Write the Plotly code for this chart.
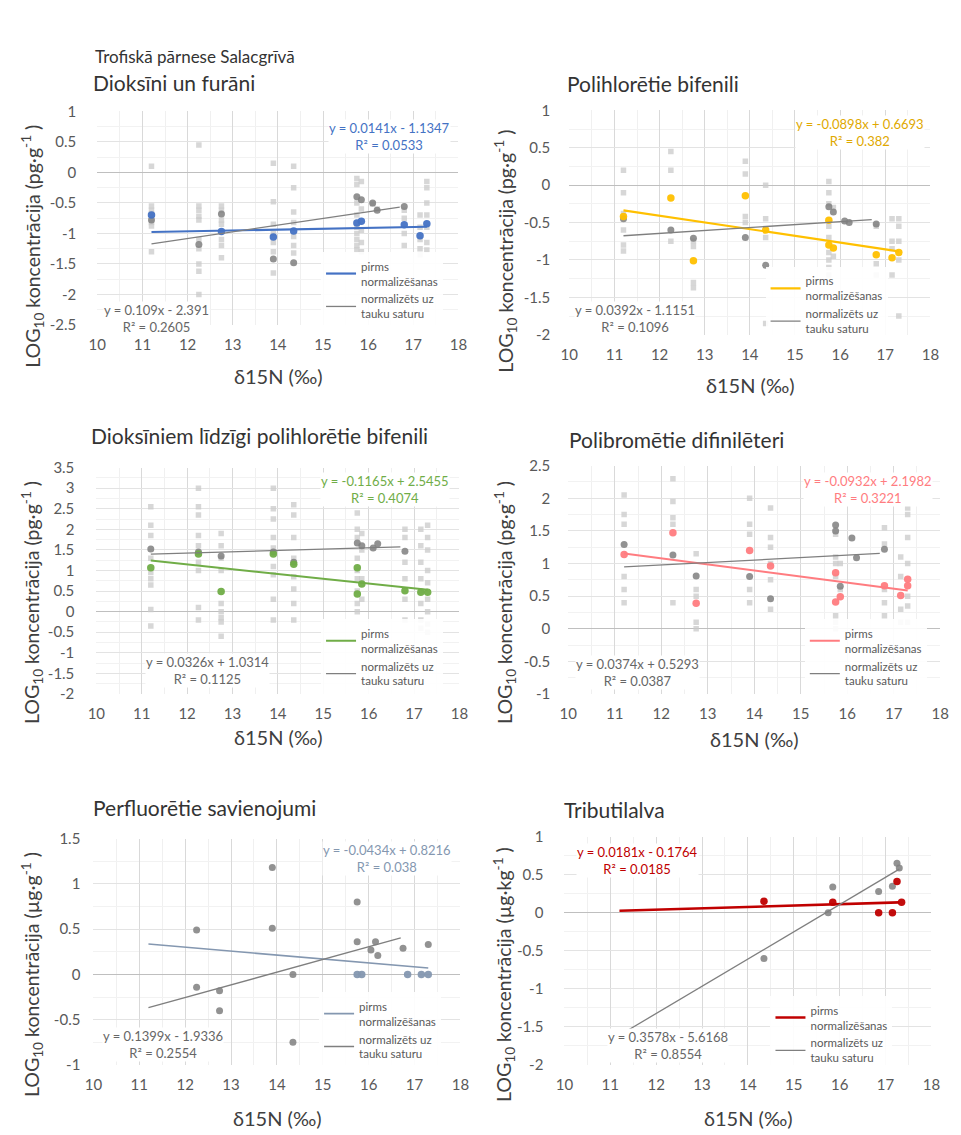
import plotly.graph_objects as go

W, H = 961, 1135
FONT = "Lato"

# ---------------- data ----------------
species_x = [11.2, 12.25, 12.75, 13.9, 14.35, 15.75, 15.85, 16.1, 16.2, 16.8, 17.15, 17.3]

panel_titles = ["Dioksīni un furāni", "Polihlorētie bifenili",
                "Dioksīniem līdzīgi polihlorētie bifenili", "Polibromētie difinilēteri",
                "Perfluorētie savienojumi", "Tributilalva"]
series_names = ["pirms<br>normalizēšanas", "normalizēts uz<br>tauku saturu"]

# Panel 1 - dioxins & furans
p1_col_x = [11.2, 12.75, 13.9, 14.35, 15.75, 15.85, 16.8, 17.15, 17.3]
p1_col_y = [-0.70, -0.97, -1.06, -0.96, -0.83, -0.80, -0.86, -1.04, -0.84]
p1_gray_x = [11.2, 12.25, 12.75, 13.9, 14.35, 15.75, 15.85, 16.1, 16.2, 16.8]
p1_gray_y = [-0.78, -1.18, -0.68, -1.42, -1.48, -0.40, -0.45, -0.50, -0.62, -0.56]
p1_light = [[0.1, -0.55, -0.62, -0.68, -0.82, -0.88, -1.3],
            [0.45, -0.55, -0.62, -0.72, -0.78, -1.1, -1.25, -1.5, -1.62, -2.0],
            [-0.55, -0.62, -0.78, -0.85, -1.1, -1.2, -1.4],
            [0.15, -0.48, -0.85, -1.0, -1.15, -1.3, -1.65],
            [0.1, -0.25, -0.65, -0.82, -1.05, -1.2, -1.32],
            [-0.1, -0.2, -0.5, -0.7, -0.9, -1.0, -1.1, -1.2, -1.27],
            [-0.15, -0.6, -0.95, -1.15, -1.3],
            [-0.52], [-0.6],
            [-0.62, -0.75, -1.0, -1.2],
            [-0.7, -0.9, -1.1, -1.25, -1.35],
            [-0.15, -0.25, -0.5, -0.7, -0.9, -1.15, -1.27]]

# Panel 2 - PCB
p2_col_x = [11.2, 12.25, 12.75, 13.9, 14.35, 15.75, 15.75, 15.85, 16.8, 17.15, 17.3]
p2_col_y = [-0.42, -0.17, -1.01, -0.14, -0.60, -0.47, -0.80, -0.84, -0.93, -0.97, -0.90]
p2_gray_x = [11.2, 12.25, 12.75, 13.9, 14.35, 15.75, 15.85, 16.1, 16.2, 16.8]
p2_gray_y = [-0.45, -0.60, -0.71, -0.70, -1.07, -0.29, -0.36, -0.48, -0.50, -0.52]
p2_light = [[0.2, -0.1, -0.38, -0.6, -0.8, -0.88],
            [0.45, 0.2, -0.75],
            [-0.75, -0.82, -1.3, -1.37],
            [0.32, 0.15, -0.42, -0.5],
            [0.0, -0.45, -0.7, -1.85],
            [0.05, -0.1, -0.25, -0.55, -0.7, -0.9, -1.0, -1.1, -1.2],
            [-0.3, -0.95],
            [], [],
            [-0.55, -1.05, -1.2],
            [-0.45, -0.75, -0.85, -1.2],
            [-0.45, -0.55, -0.75, -1.0, -1.75]]

# Panel 3 - dioxin-like PCB
p3_col_x = [11.2, 12.25, 12.75, 13.9, 14.35, 15.75, 15.75, 15.85, 16.8, 17.15, 17.3]
p3_col_y = [1.07, 1.40, 0.49, 1.40, 1.15, 1.07, 0.43, 0.67, 0.51, 0.47, 0.47]
p3_gray_x = [11.2, 12.25, 12.75, 13.9, 14.35, 15.75, 15.85, 16.1, 16.2, 16.8]
p3_gray_y = [1.52, 1.45, 1.35, 1.45, 1.20, 1.67, 1.60, 1.55, 1.65, 1.47]
p3_light = [[2.55, 2.1, 1.85, 1.3, 0.95, 0.8, 0.65, 0.05, -0.35],
            [3.0, 2.55, 2.35, 1.85, 1.6, 1.2, 1.0, 0.1, -0.2],
            [1.9, 1.6, 1.3, 1.0, 0.2, 0.0, -0.15, -0.25, -0.6],
            [3.0, 2.5, 2.25, 1.8, 1.55, 1.1, 0.9, 0.3, -0.2],
            [2.6, 2.35, 1.8, 1.3, 0.85, 0.55, 0.2, -0.2],
            [2.4, 2.0, 1.8, 1.3, 1.0, 0.8, 0.5, 0.2, 0.0],
            [1.9, 1.5, 0.8, 0.3],
            [], [],
            [2.0, 1.8, 1.2, 0.8, 0.3, -0.2],
            [2.0, 1.6, 1.2, 0.8, 0.5, 0.2, -0.2, -0.4],
            [2.1, 1.8, 1.5, 1.0, 0.7, 0.3, 0.0, -0.3, -0.5]]

# Panel 4 - PBDE
p4_col_x = [11.2, 12.25, 12.75, 13.9, 14.35, 15.75, 15.75, 15.85, 16.8, 17.15, 17.3, 17.3]
p4_col_y = [1.14, 1.47, 0.39, 1.20, 0.96, 0.86, 0.41, 0.49, 0.66, 0.51, 0.76, 0.66]
p4_gray_x = [11.2, 12.25, 12.75, 13.9, 14.35, 15.75, 15.75, 15.85, 16.1, 16.2, 16.8]
p4_gray_y = [1.29, 1.13, 0.81, 0.80, 0.46, 1.59, 1.50, 0.65, 1.39, 1.09, 1.22]
p4_light = [[2.05, 1.75, 1.6, 0.8, 0.6, 0.4],
            [2.3, 1.95, 1.7, 1.6, 0.4],
            [1.15, 0.6, 0.5, 0.1, 0.0],
            [2.0, 1.6, 1.45, 0.6, 0.4],
            [1.85, 1.4, 1.25, 1.0, 0.75, 0.3],
            [1.45, 1.1, 1.0, 0.8, 0.2, 0.1, 0.0],
            [1.0, 0.6],
            [], [],
            [1.55, 1.3, 0.6, 0.4, 0.2],
            [1.1, 0.8, 0.3, 0.1],
            [1.85, 1.75, 1.4, 1.0, 0.5, 0.35, 0.1]]

# Panel 5 - perfluorinated compounds
p5_col_x = [15.75, 15.85, 16.85, 17.15, 17.3]
p5_col_y = [0.0, 0.0, 0.0, 0.0, 0.0]
p5_gray_x = [12.25, 12.25, 12.75, 12.75, 13.9, 13.9, 14.35, 14.35, 15.75, 15.75, 16.05, 16.15, 16.2, 16.75, 17.3]
p5_gray_y = [0.49, -0.14, -0.18, -0.40, 1.18, 0.51, 0.0, -0.75, 0.80, 0.36, 0.27, 0.36, 0.21, 0.29, 0.33]
p5_light = [[] for _ in species_x]

# Panel 6 - tributyltin
p6_col_x = [14.35, 15.85, 16.85, 17.15, 17.25, 17.35]
p6_col_y = [0.15, 0.14, 0.0, 0.0, 0.41, 0.14]
p6_gray_x = [14.35, 15.75, 15.85, 16.85, 17.15, 17.25, 17.3]
p6_gray_y = [-0.60, 0.0, 0.34, 0.28, 0.35, 0.65, 0.59]
p6_light = [[] for _ in species_x]

# Trend lines (as printed on the chart)
col_slope = [0.0141, -0.0898, -0.1165, -0.0932, -0.0434, 0.0181]
col_icpt = [-1.1347, 0.6693, 2.5455, 2.1982, 0.8216, -0.1764]
col_r2 = ["0.0533", "0.382", "0.4074", "0.3221", "0.038", "0.0185"]
gray_slope = [0.109, 0.0392, 0.0326, 0.0374, 0.1399, 0.3578]
gray_icpt = [-2.391, -1.1151, 1.0314, 0.5293, -1.9336, -5.6168]
gray_r2 = ["0.2605", "0.1096", "0.1125", "0.0387", "0.2554", "0.8554"]
col_fit_x = [[11.2, 17.3]] * 6
gray_fit_x = [[11.2, 16.7], [11.2, 16.7], [11.2, 16.7], [11.2, 16.7], [11.2, 16.7], [11.2, 17.3]]

y_ticks = [[-2.5, -2, -1.5, -1, -0.5, 0, 0.5, 1],
           [-2, -1.5, -1, -0.5, 0, 0.5, 1],
           [-2, -1.5, -1, -0.5, 0, 0.5, 1, 1.5, 2, 2.5, 3, 3.5],
           [-1, -0.5, 0, 0.5, 1, 1.5, 2, 2.5],
           [-1, -0.5, 0, 0.5, 1, 1.5],
           [-2, -1.5, -1, -0.5, 0, 0.5, 1]]
x_ticks = [10, 11, 12, 13, 14, 15, 16, 17, 18]
y_units = ["pg·g<sup>-1</sup>", "pg·g<sup>-1</sup>", "pg·g<sup>-1</sup>", "pg·g<sup>-1</sup>",
           "µg·g<sup>-1</sup>", "µg·kg<sup>-1</sup>"]

col_x = [p1_col_x, p2_col_x, p3_col_x, p4_col_x, p5_col_x, p6_col_x]
col_y = [p1_col_y, p2_col_y, p3_col_y, p4_col_y, p5_col_y, p6_col_y]
gray_x = [p1_gray_x, p2_gray_x, p3_gray_x, p4_gray_x, p5_gray_x, p6_gray_x]
gray_y = [p1_gray_y, p2_gray_y, p3_gray_y, p4_gray_y, p5_gray_y, p6_gray_y]
light = [p1_light, p2_light, p3_light, p4_light, p5_light, p6_light]

# ---------------- style / layout ----------------
colors = ["#4472C4", "#FFC000", "#70AD47", "#FF7C80", "#8497B0", "#C00000"]
eq_colors = ["#4472C4", "#E0A800", "#70AD47", "#FF7C80", "#8497B0", "#C00000"]
col_lw = [2.2, 2.2, 2.0, 2.0, 1.6, 2.6]
GRAY = "#7F7F7F"

# plot areas in pixels: x0, x1, ytop, ybottom
areas = [(90, 458, 103, 320), (571, 939, 102, 330),
         (89, 459, 465, 695), (570, 949, 463, 695),
         (86, 460, 842, 1072), (566, 940, 840, 1072)]
ytick_gap = [17, 15, 18, 14, 9, 17]
title_pos = [(84, 74), (567, 75), (82, 432), (569, 436), (84, 810), (564, 812)]
xtitle_pos = [(275, 372), (756, 381), (275, 739), (760, 741), (274, 1126), (754, 1126)]
ytitle_pos = [(24, 240), (506, 245), (24, 602), (506, 602), (24, 980), (505, 980)]
col_eq_pos = [(388, 129), (867, 124), (383, 487), (875, 487), (385, 862), (640, 864)]
gray_eq_pos = [(150, 313), (638, 313), (202, 671), (641, 673), (157, 1051), (672, 1052)]
legend_pos = [(318, 246), (771, 261), (318, 619), (811, 619), (316, 998), (776, 1002)]


def px(x):
    return x / W


def py(y):
    return 1 - y / H


def fmt(v):
    return f"{v:g}"


def eq(s, b):
    sign = "+" if b >= 0 else "-"
    return f"y = {s:g}x {sign} {abs(b):g}"


fig = go.Figure()
annotations = []
layout = {}

for i in range(6):
    k = "" if i == 0 else str(i + 1)
    xa, ya = "x" + k, "y" + k
    leg = "legend" + k
    x0, x1, yt, yb = areas[i]

    # light individual points
    lx, ly = [], []
    for sx, vals in zip(species_x, light[i]):
        for v in vals:
            lx.append(sx)
            ly.append(v)
    if lx:
        fig.add_trace(go.Scatter(x=lx, y=ly, mode="markers", xaxis=xa, yaxis=ya,
                                 marker=dict(size=5.5, symbol="square", color="#C9C9C9", opacity=0.75),
                                 showlegend=False, hoverinfo="skip"))
    # normalized points
    fig.add_trace(go.Scatter(x=gray_x[i], y=gray_y[i], mode="markers", xaxis=xa, yaxis=ya,
                             marker=dict(size=7, color=GRAY, opacity=0.85),
                             showlegend=False))
    # before normalization points
    fig.add_trace(go.Scatter(x=col_x[i], y=col_y[i], mode="markers", xaxis=xa, yaxis=ya,
                             marker=dict(size=7.5, color=colors[i], opacity=0.95),
                             showlegend=False))
    # trend lines
    cx = col_fit_x[i]
    cy = [col_slope[i] * v + col_icpt[i] for v in cx]
    gx = gray_fit_x[i]
    gy = [gray_slope[i] * v + gray_icpt[i] for v in gx]
    fig.add_trace(go.Scatter(x=cx, y=cy, mode="lines", xaxis=xa, yaxis=ya,
                             line=dict(color=colors[i], width=col_lw[i]),
                             name=series_names[0], legend=leg, showlegend=True))
    fig.add_trace(go.Scatter(x=gx, y=gy, mode="lines", xaxis=xa, yaxis=ya,
                             line=dict(color=GRAY, width=1.3),
                             name=series_names[1], legend=leg, showlegend=True))

    yt_vals = y_ticks[i]
    layout["xaxis" + k] = dict(
        domain=[px(x0), px(x1)], anchor=ya, range=[10, 18],
        tickvals=x_ticks, ticktext=[fmt(v) for v in x_ticks],
        showgrid=True, gridcolor="#D9D9D9", gridwidth=1,
        minor=dict(dtick=0.5, showgrid=True, gridcolor="#F0F0F0"),
        zeroline=False, showline=False,
        ticks="outside", ticklen=6, tickcolor="rgba(0,0,0,0)",
        tickfont=dict(family=FONT, size=15, color="#595959"),
        fixedrange=True)
    layout["yaxis" + k] = dict(
        domain=[py(yb), py(yt)], anchor=xa, range=[yt_vals[0], yt_vals[-1]],
        tickvals=yt_vals, ticktext=[fmt(v) for v in yt_vals],
        showgrid=True, gridcolor="#E3E3E3", gridwidth=1,
        minor=dict(dtick=0.25, showgrid=True, gridcolor="#F2F2F2"),
        zeroline=True, zerolinecolor="#BFBFBF", zerolinewidth=1,
        showline=False,
        ticks="outside", ticklen=ytick_gap[i], tickcolor="rgba(0,0,0,0)",
        tickfont=dict(family=FONT, size=15, color="#595959"),
        fixedrange=True)

    lx0, ly0 = legend_pos[i]
    layout[leg] = dict(x=px(lx0), y=py(ly0), xanchor="left", yanchor="top",
                       bgcolor="rgba(255,255,255,0.9)", borderwidth=0,
                       font=dict(family=FONT, size=11.5, color="#595959"),
                       itemwidth=30, tracegroupgap=0, traceorder="normal",
                       itemclick=False, itemdoubleclick=False)

    # panel title
    tx, ty = title_pos[i]
    annotations.append(dict(x=px(tx), y=py(ty), xref="paper", yref="paper",
                            xanchor="left", yanchor="middle", showarrow=False,
                            text=panel_titles[i],
                            font=dict(family=FONT, size=21, color="#333333")))
    # x title
    ax, ay = xtitle_pos[i]
    annotations.append(dict(x=px(ax), y=py(ay), xref="paper", yref="paper",
                            xanchor="center", yanchor="middle", showarrow=False,
                            text="δ15N (‰)",
                            font=dict(family=FONT, size=20, color="#404040")))
    # y title
    bx, by = ytitle_pos[i]
    annotations.append(dict(x=px(bx), y=py(by), xref="paper", yref="paper",
                            xanchor="center", yanchor="middle", showarrow=False,
                            textangle=-90,
                            text="LOG<sub>10</sub> koncentrācija (" + y_units[i] + " )",
                            font=dict(family=FONT, size=19.5, color="#404040")))
    # equations
    ex, ey = col_eq_pos[i]
    annotations.append(dict(x=px(ex), y=py(ey), xref="paper", yref="paper",
                            xanchor="center", yanchor="middle", showarrow=False,
                            text=eq(col_slope[i], col_icpt[i]) + "<br>R² = " + col_r2[i],
                            bgcolor="white", borderpad=0,
                            font=dict(family=FONT, size=13, color=eq_colors[i])))
    gxp, gyp = gray_eq_pos[i]
    annotations.append(dict(x=px(gxp), y=py(gyp), xref="paper", yref="paper",
                            xanchor="center", yanchor="middle", showarrow=False,
                            text=eq(gray_slope[i], gray_icpt[i]) + "<br>R² = " + gray_r2[i],
                            bgcolor="white", borderpad=0,
                            font=dict(family=FONT, size=13, color="#666666")))

annotations.append(dict(x=px(86), y=py(47), xref="paper", yref="paper",
                        xanchor="left", yanchor="middle", showarrow=False,
                        text="Trofiskā pārnese Salacgrīvā",
                        font=dict(family=FONT, size=17, color="#333333")))

fig.update_layout(width=W, height=H, margin=dict(l=0, r=0, t=0, b=0),
                  paper_bgcolor="white", plot_bgcolor="white",
                  font=dict(family=FONT), annotations=annotations, **layout)

fig.write_html("out.html")
